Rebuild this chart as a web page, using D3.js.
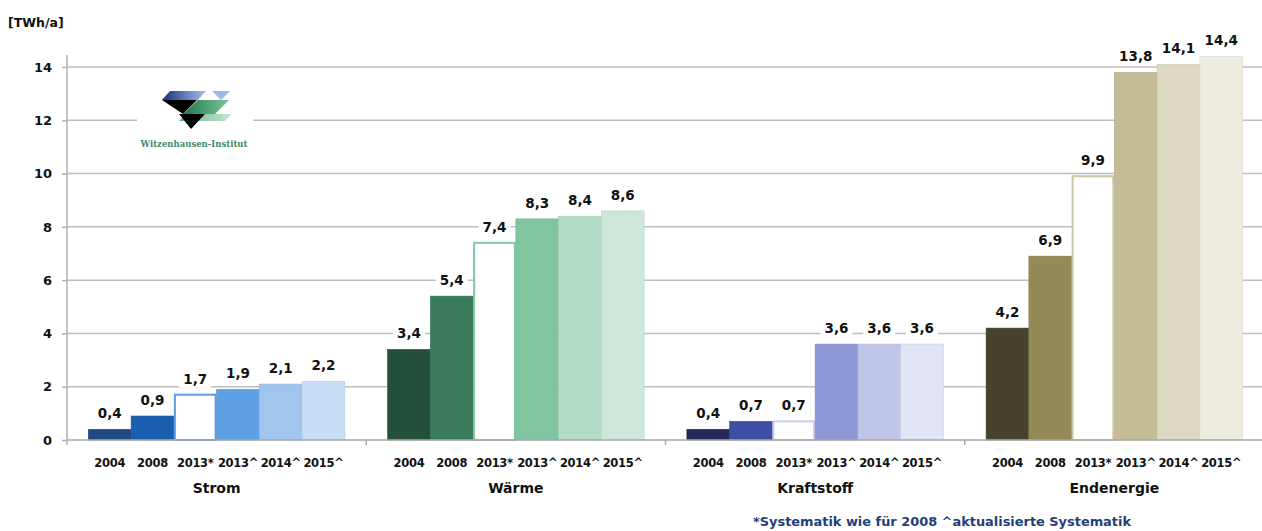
<!DOCTYPE html>
<html>
<head>
<meta charset="utf-8">
<script src="https://cdn.jsdelivr.net/npm/d3@7"></script>
<style>
  body { margin: 0; background: #fff; }
  svg { display: block; font-family: "DejaVu Sans", sans-serif; }
</style>
</head>
<body>
<div id="chart"></div>
<script>
// data
const groups = ['Strom', 'Wärme', 'Kraftstoff', 'Endenergie']
const years = ['2004', '2008', '2013*', '2013^', '2014^', '2015^']
const strom = [0.4, 0.9, 1.7, 1.9, 2.1, 2.2]
const waerme = [3.4, 5.4, 7.4, 8.3, 8.4, 8.6]
const kraftstoff = [0.4, 0.7, 0.7, 3.6, 3.6, 3.6]
const endenergie = [4.2, 6.9, 9.9, 13.8, 14.1, 14.4]
const yTicks = [0, 2, 4, 6, 8, 10, 12, 14]

const colStrom = ['#1f4a86', '#1c5fae', '#5b9be2', '#5fa0e4', '#a2c5ee', '#c8ddf6']
const colWaerme = ['#25513c', '#3a7b5b', '#86c7a3', '#80c4a0', '#b3dcc7', '#cde8db']
const colKraft = ['#232a57', '#3d4fa2', '#c8cdea', '#8c98d5', '#c0c6e9', '#e1e4f4']
const colEnde = ['#48412b', '#938a56', '#cdc6a3', '#c4bc96', '#ddd8c2', '#eeecdf']

const seriesByGroup = [strom, waerme, kraftstoff, endenergie]
const colorsByGroup = [colStrom, colWaerme, colKraft, colEnde]

const W = 1262, H = 531
const svg = d3.select('#chart').append('svg')
    .attr('width', W).attr('height', H)

const x0 = d3.scaleBand().domain(groups).range([67, 1264]).padding(0)
const x1 = d3.scaleBand().domain(years).range([0, x0.bandwidth()])
    .paddingInner(0).paddingOuter(0.5)
const y = d3.scaleLinear().domain([0, 14]).range([440, 67])

const fmt = v => v.toFixed(1).replace('.', ',')

// gridlines
svg.append('g')
    .selectAll('line')
    .data(yTicks.filter(d => d > 0))
    .enter().append('line')
    .attr('x1', 67).attr('x2', W)
    .attr('y1', d => y(d)).attr('y2', d => y(d))
    .attr('stroke', '#bdbdbd').attr('stroke-width', 1.5)

// logo (white box breaks the 12 gridline)
const logo = svg.append('g')
logo.append('rect').attr('x', 137).attr('y', 84).attr('width', 116).attr('height', 68).attr('fill', '#fff')
const defs = svg.append('defs')
const gBlue = defs.append('linearGradient').attr('id', 'gblue')
gBlue.append('stop').attr('offset', '0%').attr('stop-color', '#14307a')
gBlue.append('stop').attr('offset', '100%').attr('stop-color', '#a9c2ea')
const gGreen = defs.append('linearGradient').attr('id', 'ggreen')
gGreen.append('stop').attr('offset', '0%').attr('stop-color', '#1f7a4a')
gGreen.append('stop').attr('offset', '100%').attr('stop-color', '#7cc49a')
const gLight = defs.append('linearGradient').attr('id', 'glight')
gLight.append('stop').attr('offset', '0%').attr('stop-color', '#5fb585')
gLight.append('stop').attr('offset', '100%').attr('stop-color', '#c8e8d4')
const poly = (pts, fill) => logo.append('polygon')
    .attr('points', pts.map(p => p.join(',')).join(' ')).attr('fill', fill)
poly([[170, 91], [206, 91], [198, 100], [162, 100]], 'url(#gblue)')
poly([[212, 91], [230, 91], [221, 100]], '#9fb9e6')
poly([[162, 100], [197, 100], [183, 114]], '#000')
poly([[198, 100], [229, 100], [215, 114], [183, 114]], 'url(#ggreen)')
poly([[186, 114], [232, 114], [225, 121], [179, 121]], 'url(#glight)')
poly([[179, 114], [205, 114], [191, 129]], '#000')
logo.append('text')
    .attr('x', 194).attr('y', 147)
    .attr('text-anchor', 'middle')
    .attr('font-family', '"DejaVu Serif", serif')
    .attr('font-weight', 'bold')
    .attr('font-size', 8.5)
    .attr('fill', '#3a8c68')
    .text('Witzenhausen-Institut')

// bars
groups.forEach((g, gi) => {
    const vals = seriesByGroup[gi]
    const cols = colorsByGroup[gi]
    const grp = svg.append('g')
        .attr('class', 'group')
        .attr('transform', 'translate(' + x0(g) + ',0)')
    grp.selectAll('rect.bar')
        .data(vals)
        .enter().append('rect')
        .attr('class', 'bar')
        .attr('x', (d, i) => x1(years[i]) + (i === 2 ? 1 : 0))
        .attr('y', d => y(d))
        .attr('width', (d, i) => x1.bandwidth() - (i === 2 ? 2 : 0))
        .attr('height', d => y(0) - y(d))
        .attr('fill', (d, i) => i === 2 ? '#fff' : cols[i])
        .attr('stroke', (d, i) => i === 2 ? cols[i] : d3.color(cols[i]).darker(0.25))
        .attr('stroke-width', (d, i) => i === 2 ? 2 : 0.6)

    // value labels
    const lab = grp.selectAll('g.lab')
        .data(vals)
        .enter().append('g')
        .attr('class', 'lab')
        .attr('transform', (d, i) => 'translate(' + (x1(years[i]) + x1.bandwidth() / 2) + ',' + (y(d) - 11) + ')')
    lab.append('rect')
        .attr('x', -16).attr('y', -13).attr('width', 32).attr('height', 17)
        .attr('fill', '#fff')
    lab.append('text')
        .attr('text-anchor', 'middle')
        .attr('font-weight', 'bold')
        .attr('font-size', 13.5)
        .attr('fill', '#111')
        .text(d => fmt(d))

    // year labels
    grp.selectAll('text.year')
        .data(years)
        .enter().append('text')
        .attr('class', 'year')
        .attr('x', d => x1(d) + x1.bandwidth() / 2)
        .attr('y', 467)
        .attr('text-anchor', 'middle')
        .attr('font-weight', 'bold')
        .attr('font-size', 11.5)
        .attr('letter-spacing', -0.3)
        .attr('fill', '#111')
        .text(d => d)

    grp.append('text')
        .attr('x', x0.bandwidth() / 2)
        .attr('y', 493)
        .attr('text-anchor', 'middle')
        .attr('font-weight', 'bold')
        .attr('font-size', 14)
        .attr('fill', '#111')
        .text(g)
})

// x axis baseline and group separators
svg.append('line')
    .attr('x1', 67).attr('x2', W).attr('y1', y(0)).attr('y2', y(0))
    .attr('stroke', '#a8a8a8').attr('stroke-width', 1.5)
svg.append('g')
    .selectAll('line')
    .data(groups.slice(1))
    .enter().append('line')
    .attr('x1', d => x0(d)).attr('x2', d => x0(d))
    .attr('y1', y(0)).attr('y2', y(0) + 5)
    .attr('stroke', '#a8a8a8').attr('stroke-width', 1.5)

// y axis
const yAxis = d3.axisLeft(y).tickValues(yTicks).tickSize(5).tickPadding(10)
    .tickFormat(d3.format('d'))
const ya = svg.append('g')
    .attr('class', 'y axis')
    .attr('transform', 'translate(67,0)')
    .call(yAxis)
ya.select('.domain')
    .attr('d', 'M0,' + (y(0) + 5) + 'V55')
    .attr('stroke', '#b0b0b0').attr('stroke-width', 1.5)
ya.selectAll('.tick line').attr('stroke', '#b0b0b0').attr('stroke-width', 1.5)
ya.selectAll('.tick text')
    .attr('font-family', '"DejaVu Sans", sans-serif')
    .attr('font-weight', 'bold')
    .attr('font-size', 13)
    .attr('fill', '#111')

svg.append('text')
    .attr('x', 8).attr('y', 27)
    .attr('font-weight', 'bold')
    .attr('font-size', 12.5)
    .attr('fill', '#111')
    .text('[TWh/a]')

svg.append('text')
    .attr('x', 753).attr('y', 526)
    .attr('font-weight', 'bold')
    .attr('font-size', 12)
    .attr('fill', '#1f3f7a')
    .attr('textLength', 378)
    .attr('lengthAdjust', 'spacingAndGlyphs')
    .text('*Systematik wie für 2008  ^aktualisierte Systematik')
</script>
</body>
</html>
